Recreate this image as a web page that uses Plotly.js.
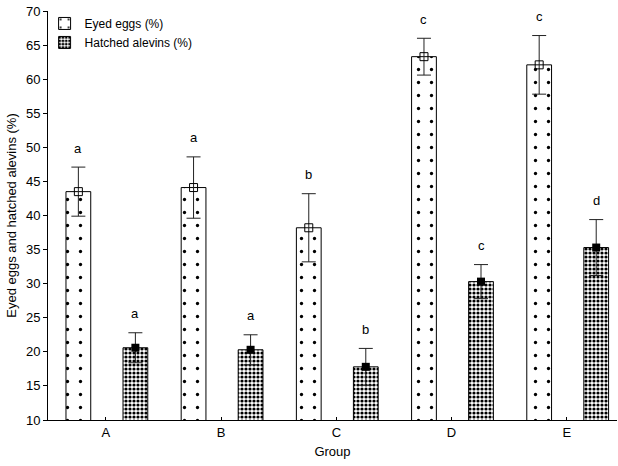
<!DOCTYPE html>
<html>
<head>
<meta charset="utf-8">
<script src="https://cdn.plot.ly/plotly-3.0.1.min.js"></script>
<style>html,body{margin:0;padding:0;background:#fff;}#chart{width:618px;height:466px;}</style>
</head>
<body>
<div id="chart"></div>
<script>
var groups = ["A", "B", "C", "D", "E"];
var eyedEggs = [43.5, 44.1, 38.2, 63.3, 62.1];
var eyedErr = [3.6, 4.5, 5.0, 2.7, 4.3];
var hatchedAlevins = [20.6, 20.3, 17.8, 30.3, 35.3];
var hatchedErr = [2.2, 2.2, 2.7, 2.5, 4.1];
var eyedLetters = ["a", "a", "b", "c", "c"];
var hatchedLetters = ["a", "a", "b", "c", "d"];

var barW = 0.215, eyedOff = -0.347, hatchOff = 0.148;
var idx = groups.map(function (g, i) { return i; });
var eyedX = idx.map(function (i) { return i + eyedOff + barW / 2; });
var hatchX = idx.map(function (i) { return i + hatchOff + barW / 2; });

var FONT = "Liberation Sans, Arial, sans-serif";

var traces = [
  {
    type: "bar", name: "Eyed eggs (%)", x: idx, y: eyedEggs,
    width: barW, offset: eyedOff,
    marker: { color: "white", line: { color: "black", width: 1 },
      pattern: { shape: ".", fgcolor: "black", bgcolor: "white", size: 13, solidity: 0.05 } },
    hoverinfo: "skip"
  },
  {
    type: "bar", name: "Hatched alevins (%)", x: idx, y: hatchedAlevins,
    width: barW, offset: hatchOff,
    marker: { color: "white", line: { color: "black", width: 1 },
      pattern: { shape: ".", fgcolor: "black", bgcolor: "white", size: 4, solidity: 0.5 } },
    hoverinfo: "skip"
  },
  {
    type: "scatter", mode: "markers", x: eyedX, y: eyedEggs, showlegend: false,
    marker: { symbol: "square-open", size: 8, color: "black", line: { width: 1, color: "black" } },
    error_y: { type: "data", array: eyedErr, visible: true, color: "#222", thickness: 1, width: 7 },
    hoverinfo: "skip"
  },
  {
    type: "scatter", mode: "markers", x: hatchX, y: hatchedAlevins, showlegend: false,
    marker: { symbol: "square", size: 8, color: "black" },
    error_y: { type: "data", array: hatchedErr, visible: true, color: "#222", thickness: 1, width: 7 },
    hoverinfo: "skip"
  }
];

var annotations = [];
idx.forEach(function (i) {
  annotations.push({ x: eyedX[i], y: eyedEggs[i] + eyedErr[i], text: eyedLetters[i], showarrow: false,
    xref: "x", yref: "y", yanchor: "middle", yshift: 19, font: { family: FONT, size: 13, color: "black" } });
  annotations.push({ x: hatchX[i], y: hatchedAlevins[i] + hatchedErr[i], text: hatchedLetters[i], showarrow: false,
    xref: "x", yref: "y", yanchor: "middle", yshift: 19, font: { family: FONT, size: 13, color: "black" } });
});

var layout = {
  width: 618, height: 466,
  margin: { l: 48, r: 1, t: 11, b: 46 },
  paper_bgcolor: "white", plot_bgcolor: "white",
  font: { family: FONT, size: 13, color: "black" },
  showlegend: true,
  legend: { x: -0.006, y: 1.005, xanchor: "left", yanchor: "top", bgcolor: "rgba(0,0,0,0)",
    font: { family: FONT, size: 12, color: "black" }, itemwidth: 30, tracegroupgap: 0 },
  xaxis: {
    range: [-0.503, 4.436], tickvals: idx, ticktext: groups,
    showline: true, linecolor: "black", linewidth: 1,
    ticks: "inside", ticklen: 3, tickcolor: "black",
    showgrid: false, zeroline: false, fixedrange: true,
    title: { text: "Group", font: { family: FONT, size: 13, color: "black" }, standoff: 8 }
  },
  yaxis: {
    range: [10, 70], dtick: 5, tick0: 10,
    showline: true, linecolor: "black", linewidth: 1,
    ticks: "outside", ticklen: 4, tickcolor: "black",
    showgrid: false, zeroline: false, fixedrange: true,
    title: { text: "Eyed eggs and hatched alevins (%)", font: { family: FONT, size: 13, color: "black" }, standoff: 6 }
  },
  annotations: annotations
};

Plotly.newPlot("chart", traces, layout, { displayModeBar: false, staticPlot: true });
</script>
</body>
</html>
